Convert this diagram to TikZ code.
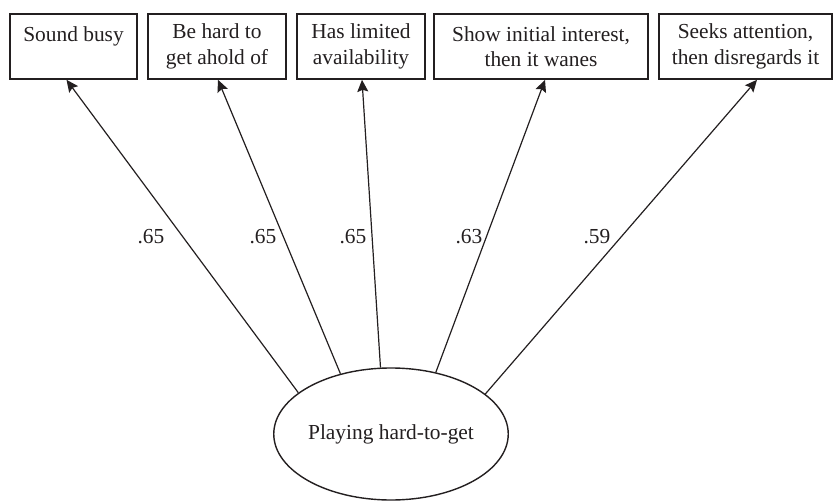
\documentclass[tikz,border=0pt]{standalone}
\usepackage{fontspec}
\setmainfont{Liberation Serif}
\usepackage{tikz}
\usetikzlibrary{arrows.meta,shapes.geometric}
\definecolor{ink}{HTML}{231f20}

\begin{document}
\begin{tikzpicture}[x=0.5pt, y=0.5pt, every node/.style={font=\fontsize{10.7}{12.8}\selectfont, align=center, inner sep=0pt, text=ink},
  itembox/.style={draw=ink, line width=0.8pt, minimum height=32.5pt},
  loading/.style={-{Stealth[length=6pt, width=5.5pt, inset=1pt]}, ink, line width=0.6pt}]
\useasboundingbox (0, 0) rectangle (833, 503);
% indicators
\node[itembox, minimum width=63.5pt] (b1) at (73.5, 456.5) {Sound busy\\ \mbox{}};
\node[itembox, minimum width=69pt] (b2) at (217, 456.5) {Be hard to\\get ahold of};
\node[itembox, minimum width=64pt] (b3) at (361, 456.5) {Has limited\\availability};
\node[itembox, minimum width=107pt] (b4) at (541, 456.5) {Show initial interest,\\then it wanes};
\node[itembox, minimum width=86.5pt] (b5) at (745.5, 456.5) {Seeks attention,\\then disregards it};
% latent factor
\node[ellipse, draw=ink, line width=0.7pt, minimum width=117pt, minimum height=66pt] (hard) at (391, 69) {Playing hard-to-get};
\foreach \ang/\item/\dx in {156/b1/-3.5pt, 130/b2/0.5pt, 99/b3/0.5pt, 54/b4/2pt, 23/b5/5.75pt} {
  \draw[loading] (hard.\ang) -- ([xshift=\dx]\item.south);
}
% loadings
\node (l1) at (151, 266) {.65};
\node (l2) at (263, 266) {.65};
\node (l3) at (353, 266) {.65};
\node (l4) at (469, 266) {.63};
\node (l5) at (597, 266) {.59};
\end{tikzpicture}
\end{document}
